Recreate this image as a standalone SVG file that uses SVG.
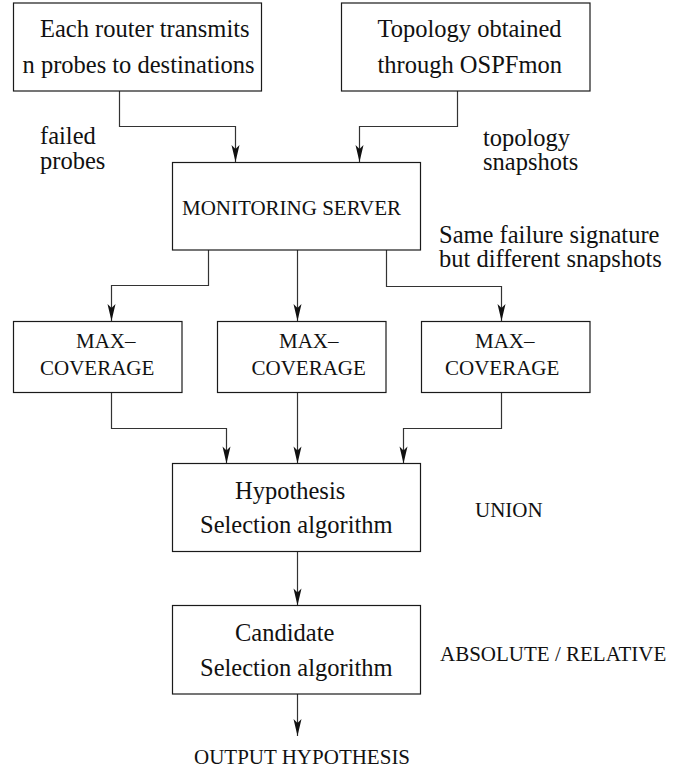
<svg xmlns="http://www.w3.org/2000/svg" width="676" height="769" viewBox="0 0 676 769">
  <style>
    .box { fill: #ffffff; stroke: #1a1a1a; stroke-width: 1.2; }
    .wire { fill: none; stroke: #333333; stroke-width: 1.2; marker-end: url(#head); }
    .t { font-size: 24.5px; fill: #111111; }
    .c { font-size: 21px; fill: #111111; }
  </style>
  <defs>
    <!-- narrow indented arrowhead, tip at the path end -->
    <marker id="head" markerUnits="userSpaceOnUse" markerWidth="20" markerHeight="12" viewBox="-18 -6 20 12" refX="0" refY="0" orient="auto">
      <path d="M0,0 L-17,-4 L-13,0 L-17,4 Z" fill="#111111"/>
    </marker>
  </defs>

  <rect width="676" height="769" fill="#ffffff"/>

  <g id="connectors">
    <path class="wire" d="M119.5,91 V126.5 H235.5 V162"/>
    <path class="wire" d="M457.5,91 V126.5 H359.5 V162"/>
    <path class="wire" d="M208.5,250 V285.5 H111.5 V321"/>
    <path class="wire" d="M297.5,250 V321"/>
    <path class="wire" d="M386.5,250 V286.5 H501.5 V321"/>
    <path class="wire" d="M111.5,392.5 V428.5 H226.5 V463.5"/>
    <path class="wire" d="M297.5,392.5 V463.5"/>
    <path class="wire" d="M501.5,392.5 V428.5 H403.5 V463.5"/>
    <path class="wire" d="M297.5,551.5 V605.5"/>
    <path class="wire" d="M297.5,694 V736"/>
  </g>

  <g font-family="Liberation Serif">
  <g id="probes">
    <rect class="box" x="13.5" y="3" width="248" height="88"/>
    <text class="t" x="40" y="37" font-family="Liberation Serif">Each router transmits</text>
    <text class="t" x="22.5" y="72.5" font-family="Liberation Serif">n probes to destinations</text>
  </g>

  <g id="ospfmon">
    <rect class="box" x="341.5" y="3" width="248.5" height="88"/>
    <text class="t" x="377.5" y="37" font-family="Liberation Serif">Topology obtained</text>
    <text class="t" x="377.5" y="72.5" font-family="Liberation Serif">through OSPFmon</text>
  </g>

  <g id="label-failed">
    <text class="t" x="40" y="144" font-family="Liberation Serif">failed</text>
    <text class="t" x="40" y="169" font-family="Liberation Serif">probes</text>
  </g>

  <g id="label-topology">
    <text class="t" x="483" y="146" font-family="Liberation Serif">topology</text>
    <text class="t" x="483" y="170" font-family="Liberation Serif">snapshots</text>
  </g>

  <g id="server">
    <rect class="box" x="172.5" y="162.5" width="248" height="87.5"/>
    <text class="c" x="182" y="215" font-family="Liberation Serif">MONITORING SERVER</text>
  </g>

  <g id="label-signature">
    <text class="t" x="439" y="243" font-family="Liberation Serif">Same failure signature</text>
    <text class="t" x="439" y="267" font-family="Liberation Serif">but different snapshots</text>
  </g>

  <g id="maxcov-1">
    <rect class="box" x="13.5" y="321.5" width="168.5" height="71"/>
    <text class="c" x="76" y="348" font-family="Liberation Serif">MAX–</text>
    <text class="c" x="40" y="374.5" font-family="Liberation Serif">COVERAGE</text>
  </g>

  <g id="maxcov-2">
    <rect class="box" x="217.5" y="321.5" width="168.5" height="71"/>
    <text class="c" x="279" y="348" font-family="Liberation Serif">MAX–</text>
    <text class="c" x="251.5" y="374.5" font-family="Liberation Serif">COVERAGE</text>
  </g>

  <g id="maxcov-3">
    <rect class="box" x="421.5" y="321.5" width="168.5" height="71"/>
    <text class="c" x="475" y="348" font-family="Liberation Serif">MAX–</text>
    <text class="c" x="445" y="374.5" font-family="Liberation Serif">COVERAGE</text>
  </g>

  <g id="hypothesis">
    <rect class="box" x="172.5" y="463.5" width="248" height="88"/>
    <text class="t" x="235" y="499" font-family="Liberation Serif">Hypothesis</text>
    <text class="t" x="200" y="533" font-family="Liberation Serif">Selection algorithm</text>
  </g>

  <g id="label-union">
    <text class="c" x="475" y="517" font-family="Liberation Serif">UNION</text>
  </g>

  <g id="candidate">
    <rect class="box" x="172.5" y="605.5" width="248" height="88.5"/>
    <text class="t" x="235" y="641" font-family="Liberation Serif">Candidate</text>
    <text class="t" x="200" y="675.5" font-family="Liberation Serif">Selection algorithm</text>
  </g>

  <g id="label-threshold">
    <text class="c" x="440" y="661" font-family="Liberation Serif">ABSOLUTE / RELATIVE</text>
  </g>

  <g id="output">
    <text class="c" x="194" y="764" font-family="Liberation Serif">OUTPUT HYPOTHESIS</text>
  </g>
  </g>
</svg>
